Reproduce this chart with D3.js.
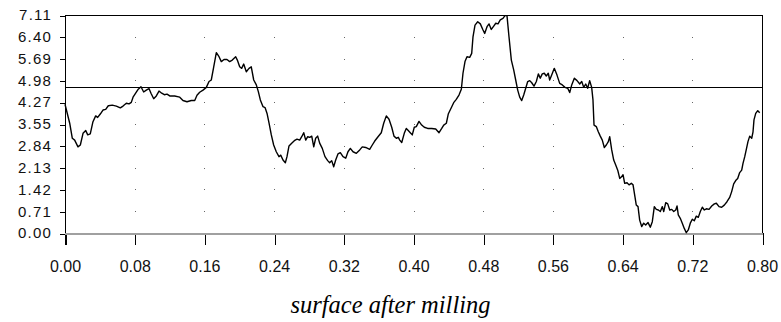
<!DOCTYPE html>
<html>
<head>
<meta charset="utf-8">
<script src="https://cdn.jsdelivr.net/npm/d3@7"></script>
<style>
  html, body { margin: 0; padding: 0; background: #fff; }
  svg { display: block; }
  .tick text { font-family: "Liberation Sans", Arial, sans-serif; font-size: 16px; fill: #111; }
  .y-axis .tick text { font-size: 15px; letter-spacing: 1.2px; }
  .title { font-family: "Liberation Serif", "Times New Roman", serif; font-style: italic; font-size: 24.5px; fill: #000; }
</style>
</head>
<body>
<svg id="chart" width="781" height="322"></svg>
<script>
// Profile position along the surface (x) and measured height (y)
const position = [
  0.0000, 0.0054, 0.0084, 0.0111, 0.0149, 0.0176, 0.0207, 0.0238, 0.0261, 0.0290,
  0.0321, 0.0352, 0.0375, 0.0405, 0.0436, 0.0467, 0.0497, 0.0543, 0.0589, 0.0635,
  0.0666, 0.0704, 0.0735, 0.0761, 0.0781, 0.0811, 0.0841, 0.0872, 0.0903, 0.0933,
  0.0964, 0.0987, 0.1018, 0.1048, 0.1079, 0.1110, 0.1140, 0.1171, 0.1202, 0.1259,
  0.1317, 0.1354, 0.1400, 0.1450, 0.1489, 0.1515, 0.1546, 0.1584, 0.1622, 0.1653,
  0.1679, 0.1707, 0.1737, 0.1768, 0.1794, 0.1825, 0.1859, 0.1890, 0.1920, 0.1959,
  0.1978, 0.2005, 0.2028, 0.2051, 0.2081, 0.2112, 0.2138, 0.2166, 0.2196, 0.2219,
  0.2242, 0.2273, 0.2296, 0.2319, 0.2342, 0.2368, 0.2395, 0.2425, 0.2456, 0.2476,
  0.2502, 0.2529, 0.2548, 0.2571, 0.2602, 0.2632, 0.2663, 0.2694, 0.2717, 0.2740,
  0.2763, 0.2786, 0.2809, 0.2832, 0.2855, 0.2877, 0.2900, 0.2923, 0.2953, 0.2984,
  0.3015, 0.3038, 0.3061, 0.3084, 0.3107, 0.3133, 0.3160, 0.3191, 0.3222, 0.3248,
  0.3275, 0.3306, 0.3344, 0.3383, 0.3412, 0.3451, 0.3497, 0.3527, 0.3555, 0.3593,
  0.3630, 0.3658, 0.3688, 0.3719, 0.3750, 0.3776, 0.3803, 0.3826, 0.3842, 0.3865,
  0.3894, 0.3917, 0.3940, 0.3963, 0.3986, 0.4009, 0.4032, 0.4063, 0.4094, 0.4124,
  0.4163, 0.4209, 0.4255, 0.4293, 0.4324, 0.4347, 0.4377, 0.4399, 0.4431, 0.4461,
  0.4491, 0.4522, 0.4549, 0.4568, 0.4591, 0.4614, 0.4645, 0.4668, 0.4683, 0.4706,
  0.4737, 0.4767, 0.4798, 0.4817, 0.4844, 0.4867, 0.4893, 0.4921, 0.4944, 0.4970,
  0.4996, 0.5027, 0.5050, 0.5073, 0.5096, 0.5123, 0.5150, 0.5173, 0.5196, 0.5219,
  0.5242, 0.5265, 0.5288, 0.5311, 0.5334, 0.5357, 0.5383, 0.5410, 0.5433, 0.5455,
  0.5478, 0.5501, 0.5524, 0.5547, 0.5563, 0.5586, 0.5616, 0.5647, 0.5678, 0.5708,
  0.5739, 0.5770, 0.5793, 0.5816, 0.5846, 0.5877, 0.5908, 0.5931, 0.5954, 0.5977,
  0.5999, 0.6022, 0.6045, 0.6060, 0.6072, 0.6098, 0.6121, 0.6144, 0.6167, 0.6190,
  0.6213, 0.6236, 0.6252, 0.6275, 0.6298, 0.6321, 0.6344, 0.6367, 0.6390, 0.6405,
  0.6424, 0.6451, 0.6474, 0.6500, 0.6520, 0.6542, 0.6557, 0.6577, 0.6596, 0.6619,
  0.6642, 0.6665, 0.6692, 0.6718, 0.6741, 0.6764, 0.6787, 0.6810, 0.6833, 0.6856,
  0.6872, 0.6895, 0.6918, 0.6941, 0.6964, 0.6987, 0.7010, 0.7025, 0.7039, 0.7062,
  0.7085, 0.7108, 0.7131, 0.7154, 0.7177, 0.7200, 0.7223, 0.7246, 0.7269, 0.7292,
  0.7315, 0.7338, 0.7361, 0.7392, 0.7423, 0.7453, 0.7476, 0.7507, 0.7537, 0.7567,
  0.7598, 0.7629, 0.7652, 0.7675, 0.7698, 0.7721, 0.7744, 0.7767, 0.7782, 0.7802,
  0.7820, 0.7839, 0.7859, 0.7882, 0.7897, 0.7908, 0.7928, 0.7951, 0.7974
];

const height = [
  4.20, 3.58, 3.09, 3.03, 2.81, 2.87, 3.25, 3.34, 3.20, 3.23,
  3.63, 3.82, 3.77, 3.88, 4.01, 4.03, 4.15, 4.17, 4.14, 4.08,
  4.14, 4.23, 4.21, 4.26, 4.43, 4.56, 4.69, 4.77, 4.60, 4.66,
  4.71, 4.56, 4.38, 4.47, 4.63, 4.56, 4.51, 4.53, 4.47, 4.47,
  4.43, 4.32, 4.28, 4.32, 4.32, 4.49, 4.59, 4.66, 4.75, 4.94,
  4.99, 5.42, 5.88, 5.75, 5.59, 5.66, 5.66, 5.59, 5.64, 5.75,
  5.64, 5.42, 5.37, 5.51, 5.26, 5.37, 5.42, 4.99, 4.83, 4.61,
  4.34, 4.12, 4.09, 3.90, 3.58, 3.20, 2.87, 2.65, 2.49, 2.54,
  2.38, 2.29, 2.49, 2.84, 2.93, 3.01, 3.06, 3.03, 3.14, 3.27,
  3.03, 3.14, 3.12, 3.16, 2.81, 3.09, 3.16, 2.93, 2.76, 2.49,
  2.36, 2.29, 2.36, 2.16, 2.38, 2.58, 2.62, 2.49, 2.44, 2.65,
  2.76, 2.65, 2.60, 2.71, 2.81, 2.79, 2.73, 2.87, 3.00, 3.14,
  3.27, 3.58, 3.82, 3.71, 3.45, 3.16, 3.09, 3.12, 3.03, 2.95,
  3.25, 3.41, 3.34, 3.27, 3.20, 3.45, 3.47, 3.64, 3.52, 3.45,
  3.41, 3.41, 3.39, 3.27, 3.41, 3.52, 3.58, 3.88, 4.07, 4.25,
  4.36, 4.50, 4.69, 5.21, 5.59, 5.75, 5.73, 5.86, 6.40, 6.78,
  6.89, 6.82, 6.62, 6.51, 6.73, 6.82, 6.64, 6.75, 6.84, 6.82,
  6.95, 7.00, 7.09, 7.09, 6.40, 5.64, 5.32, 4.99, 4.66, 4.43,
  4.32, 4.50, 4.72, 4.94, 4.97, 4.90, 4.79, 4.94, 5.19, 5.05,
  5.19, 5.21, 5.12, 5.21, 4.99, 5.15, 5.37, 5.15, 4.88, 4.83,
  4.75, 4.72, 4.58, 4.83, 5.05, 4.97, 4.86, 4.94, 4.75, 4.86,
  4.72, 4.97, 4.75, 4.34, 3.52, 3.47, 3.30, 3.16, 3.03, 2.79,
  2.87, 2.98, 3.14, 2.71, 2.38, 2.22, 2.05, 1.78, 1.84, 1.90,
  1.62, 1.64, 1.57, 1.62, 1.57, 1.18, 0.91, 0.86, 0.42, 0.21,
  0.32, 0.26, 0.34, 0.19, 0.37, 0.86, 0.77, 0.75, 0.70, 0.86,
  0.70, 0.99, 0.95, 0.75, 0.77, 0.70, 0.75, 0.88, 0.59, 0.48,
  0.32, 0.15, 0.01, 0.10, 0.32, 0.45, 0.40, 0.55, 0.51, 0.70,
  0.84, 0.75, 0.79, 0.77, 0.88, 0.95, 0.97, 0.86, 0.84, 0.91,
  1.02, 1.16, 1.35, 1.60, 1.71, 1.78, 1.97, 2.05, 2.27, 2.49,
  2.73, 2.98, 3.16, 3.09, 3.30, 3.69, 3.90, 3.99, 3.92
];

const xTicks = [0.00, 0.08, 0.16, 0.24, 0.32, 0.40, 0.48, 0.56, 0.64, 0.72, 0.80];
const yTicks = [0.00, 0.71, 1.42, 2.13, 2.84, 3.55, 4.27, 4.98, 5.69, 6.40, 7.11];
const referenceLevel = [4.75];
const titleText = "surface after milling";

const svg = d3.select("#chart");
const W = 781;
const margin = { left: 65, right: 19, top: 15, bottom: 89 };
const plotRight = W - margin.right;   // 762
const plotBottom = 322 - margin.bottom; // 233

const x = d3.scaleLinear().domain([0, 0.8]).range([margin.left, plotRight]);
const y = d3.scaleLinear().domain([0, 7.11]).range([plotBottom, margin.top]);

// dotted grid: a single dot at every interior tick crossing
const dots = [];
xTicks.slice(1, -1).forEach(tx => yTicks.slice(1, -1).forEach(ty => dots.push([tx, ty])));
svg.append("g")
  .selectAll("rect")
  .data(dots)
  .join("rect")
  .attr("x", d => Math.round(x(d[0])))
  .attr("y", d => Math.round(y(d[1])))
  .attr("width", 1)
  .attr("height", 1)
  .attr("fill", "#666");

// frame: top and right edges
svg.append("line")
  .attr("x1", x(0)).attr("x2", x(0.8) + 1)
  .attr("y1", y(7.11) + 0.5).attr("y2", y(7.11) + 0.5)
  .attr("stroke", "#000").attr("stroke-width", 1).attr("shape-rendering", "crispEdges");
svg.append("line")
  .attr("x1", x(0.8) + 0.5).attr("x2", x(0.8) + 0.5)
  .attr("y1", y(7.11)).attr("y2", y(0))
  .attr("stroke", "#000").attr("stroke-width", 1).attr("shape-rendering", "crispEdges");

// reference level line
svg.append("g")
  .selectAll("line")
  .data(referenceLevel)
  .join("line")
  .attr("x1", x(0)).attr("x2", x(0.8))
  .attr("y1", d => Math.round(y(d)) + 0.5).attr("y2", d => Math.round(y(d)) + 0.5)
  .attr("stroke", "#000").attr("stroke-width", 1).attr("shape-rendering", "crispEdges");

// x axis
const xAxis = svg.append("g")
  .attr("class", "x-axis")
  .attr("transform", `translate(0,${plotBottom})`)
  .call(d3.axisBottom(x).tickValues(xTicks).tickFormat(d3.format(".2f"))
    .tickSize(12).tickSizeOuter(0).tickPadding(16));
xAxis.select(".domain").remove();
xAxis.selectAll(".tick line").attr("stroke", "#000").attr("shape-rendering", "crispEdges")
  .attr("transform", "translate(0.5,0)");

// y axis
const yAxis = svg.append("g")
  .attr("class", "y-axis")
  .attr("transform", `translate(${margin.left},0)`)
  .call(d3.axisLeft(y).tickValues(yTicks).tickFormat(d3.format(".2f"))
    .tickSize(5).tickSizeOuter(0).tickPadding(8));
yAxis.select(".domain").remove();
yAxis.selectAll(".tick line").attr("stroke", "#000").attr("shape-rendering", "crispEdges")
  .attr("transform", "translate(0,0.5)");

// left axis line (black) and bottom axis line (grey)
svg.append("line")
  .attr("x1", margin.left + 0.5).attr("x2", margin.left + 0.5)
  .attr("y1", y(7.11)).attr("y2", y(0) + 12)
  .attr("stroke", "#000").attr("stroke-width", 1).attr("shape-rendering", "crispEdges");
svg.append("line")
  .attr("x1", margin.left).attr("x2", x(0.8) + 1)
  .attr("y1", plotBottom + 1).attr("y2", plotBottom + 1)
  .attr("stroke", "#a0a0a0").attr("stroke-width", 2).attr("shape-rendering", "crispEdges");

// profile curve
const pts = position.map((p, i) => [p, height[i]]);
svg.append("path")
  .datum(pts)
  .attr("fill", "none")
  .attr("stroke", "#000")
  .attr("stroke-width", 1.4)
  .attr("stroke-linejoin", "round")
  .attr("d", d3.line().x(d => x(d[0])).y(d => y(d[1])));

// caption
svg.append("text")
  .attr("class", "title")
  .attr("x", W / 2)
  .attr("y", 313)
  .attr("text-anchor", "middle")
  .text(titleText);
</script>
</body>
</html>
